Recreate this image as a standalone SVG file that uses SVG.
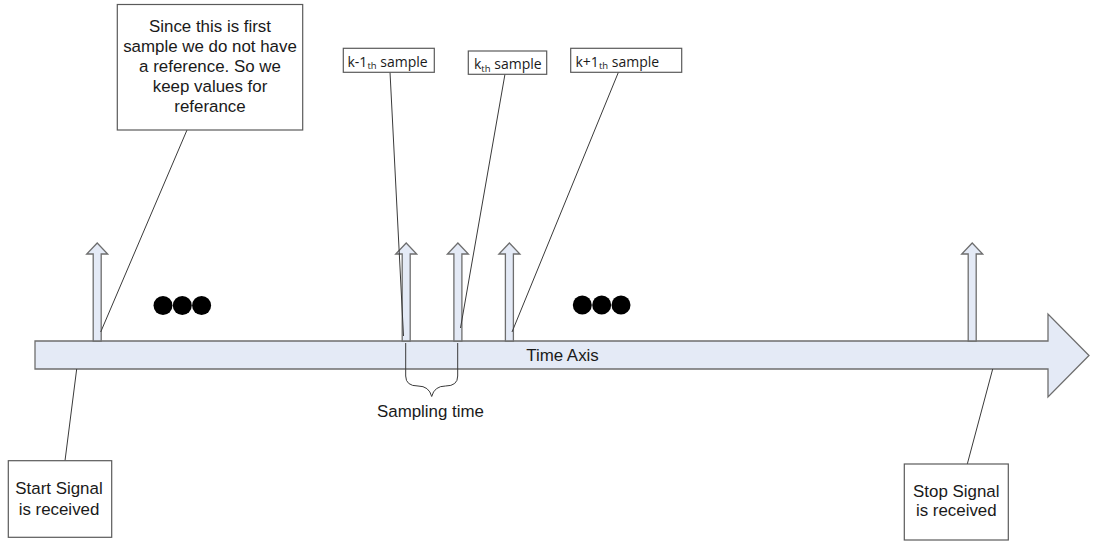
<svg xmlns="http://www.w3.org/2000/svg" width="1094" height="542" viewBox="0 0 1094 542">
  <style>
    .axis { fill: #e4eaf6; stroke: #6e6e6e; stroke-width: 1.3; }
    .tick { fill: #e4eaf6; stroke: #6e6e6e; stroke-width: 1.3; }
    .box { fill: #ffffff; stroke: #5a5a5a; stroke-width: 1.2; }
    .lbl { font-family: "Liberation Sans", Arial, sans-serif; font-size: 16.9px; fill: #1a1a1a; text-anchor: middle; }
    .small { font-family: "Open Sans", "Liberation Sans", sans-serif; font-size: 14px; fill: #1a1a1a; }
    .sub { font-size: 9.5px; }
    .conn { stroke: #3a3a3a; stroke-width: 1; fill: none; }
    .dot { fill: #000000; }
  </style>

  <rect width="1094" height="542" fill="#ffffff"/>

  <!-- time axis -->
  <g id="time-axis">
    <polygon class="axis" points="35,341 1048,341 1048,314 1089,355.5 1048,397 1048,369 35,369"/>
    <text class="lbl" x="562.5" y="360.5">Time Axis</text>
  </g>

  <!-- sample markers -->
  <g id="sample-first">
    <polygon class="tick" points="93.2,341 93.2,254 86.7,254 97.2,243 107.7,254 101.2,254 101.2,341"/>
  </g>
  <g id="sample-k-1">
    <polygon class="tick" points="402.2,341 402.2,254 395.7,254 406.2,243 416.7,254 410.2,254 410.2,341"/>
  </g>
  <g id="sample-k">
    <polygon class="tick" points="453.9,341 453.9,254 447.4,254 457.9,243 468.4,254 461.9,254 461.9,341"/>
  </g>
  <g id="sample-k+1">
    <polygon class="tick" points="505.4,341 505.4,254 498.9,254 509.4,243 519.9,254 513.4,254 513.4,341"/>
  </g>
  <g id="sample-last">
    <polygon class="tick" points="968.2,341 968.2,254 961.7,254 972.2,243 982.7,254 976.2,254 976.2,341"/>
  </g>

  <!-- ellipsis dots -->
  <g id="dots-left">
    <circle class="dot" cx="163" cy="305.5" r="9.5"/>
    <circle class="dot" cx="182.3" cy="305.5" r="9.5"/>
    <circle class="dot" cx="201.6" cy="305.5" r="9.5"/>
  </g>
  <g id="dots-right">
    <circle class="dot" cx="582.3" cy="305" r="9.5"/>
    <circle class="dot" cx="601.7" cy="305" r="9.5"/>
    <circle class="dot" cx="621" cy="305" r="9.5"/>
  </g>

  <!-- callout lines and brace -->
  <g id="connectors">
    <line class="conn" x1="187" y1="130" x2="100.7" y2="332"/>
    <line class="conn" x1="390" y1="72" x2="403.5" y2="336"/>
    <line class="conn" x1="505" y1="74" x2="460.5" y2="328"/>
    <line class="conn" x1="618.5" y1="72" x2="512" y2="332"/>
    <line class="conn" x1="76.7" y1="369" x2="65" y2="460.7"/>
    <line class="conn" x1="992.7" y1="369" x2="967.3" y2="464"/>
    <path class="conn" stroke="#555555" d="M405.7,343 L405.7,376 Q405.7,386 418,386 Q429,386 431.7,396.5 Q434.4,386 445.5,386 Q457.7,386 457.7,376 L457.7,343"/>
  </g>

  <!-- note boxes -->
  <g id="note-first">
    <rect class="box" x="117.3" y="4.5" width="185.4" height="125.5"/>
    <text class="lbl" x="210" y="31.5">Since this is first</text>
    <text class="lbl" x="210" y="51.5">sample we do not have</text>
    <text class="lbl" x="210" y="72">a reference. So we</text>
    <text class="lbl" x="210" y="92">keep values for</text>
    <text class="lbl" x="210" y="112">referance</text>
  </g>

  <g id="note-k-1">
    <rect class="box" x="343.3" y="48.3" width="91" height="24"/>
    <text class="small" x="347.5" y="66.5">k-1<tspan class="sub" dy="2.5">th</tspan><tspan dy="-2.5"> sample</tspan></text>
  </g>

  <g id="note-k">
    <rect class="box" x="468.3" y="51" width="78.4" height="23.3"/>
    <text class="small" x="474" y="69">k<tspan class="sub" dy="2.5">th</tspan><tspan dy="-2.5"> sample</tspan></text>
  </g>

  <g id="note-k+1">
    <rect class="box" x="570.7" y="48.3" width="111" height="24"/>
    <text class="small" x="575.5" y="66.5">k+1<tspan class="sub" dy="2.5">th</tspan><tspan dy="-2.5"> sample</tspan></text>
  </g>

  <g id="note-start">
    <rect class="box" x="8.3" y="460.7" width="103.4" height="76.6"/>
    <text class="lbl" x="59" y="494">Start Signal</text>
    <text class="lbl" x="59" y="515">is received</text>
  </g>

  <g id="note-stop">
    <rect class="box" x="904.3" y="464" width="104" height="76"/>
    <text class="lbl" x="956.3" y="496.5">Stop Signal</text>
    <text class="lbl" x="956.3" y="516">is received</text>
  </g>

  <g id="label-sampling">
    <text class="lbl" x="430.5" y="417">Sampling time</text>
  </g>
</svg>
